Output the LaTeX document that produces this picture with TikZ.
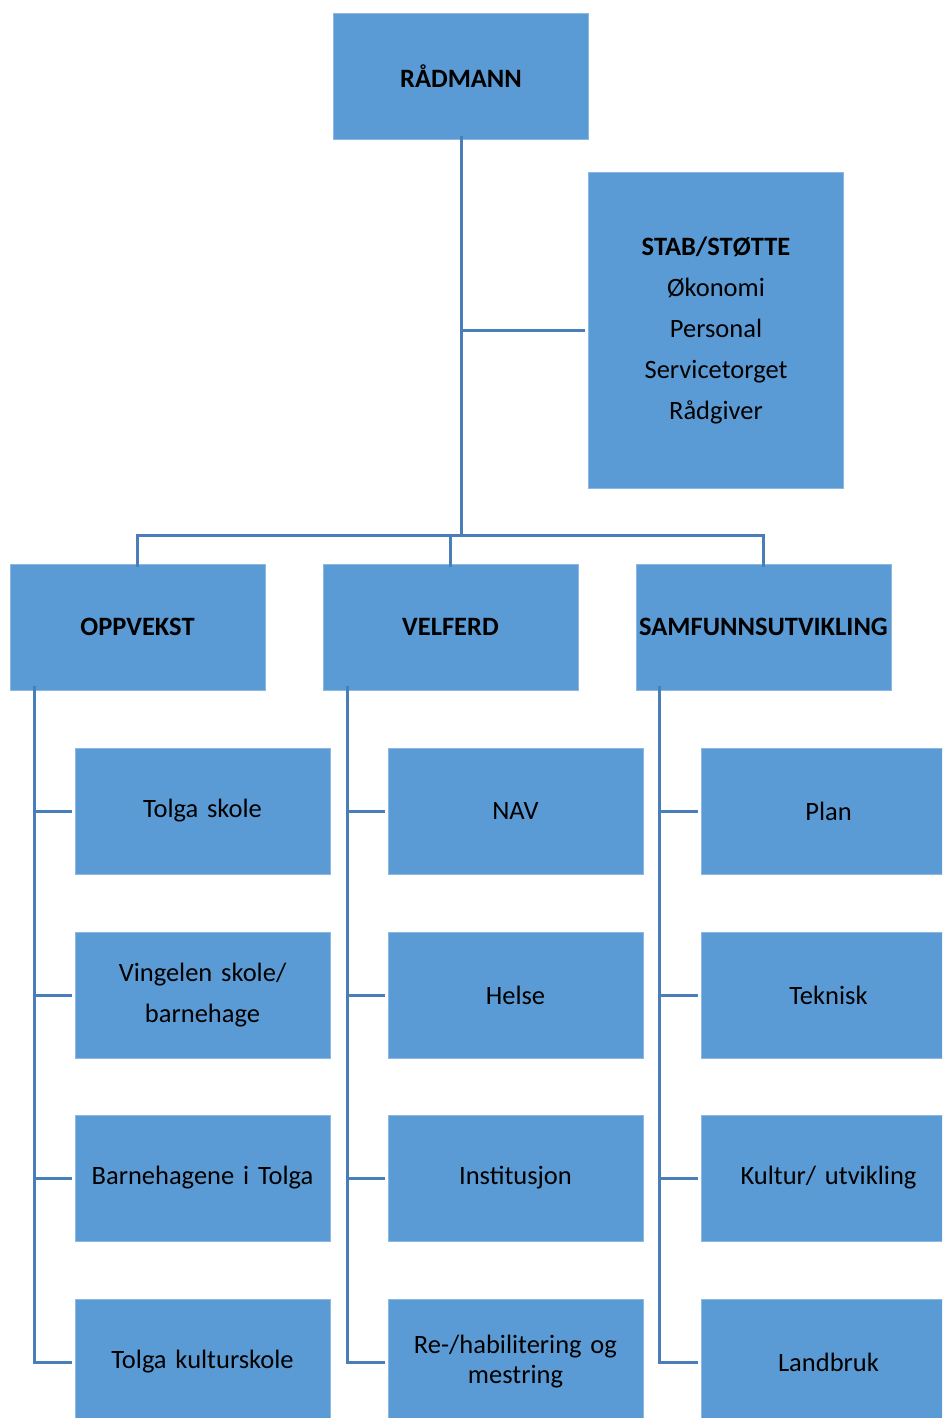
\documentclass[tikz,border=0pt]{standalone}
\usepackage{fontspec}
\setmainfont{Carlito}
\definecolor{boxblue}{HTML}{5B9BD5}
\definecolor{lineblue}{HTML}{4A7EBB}
\begin{document}
\begin{tikzpicture}[x=1pt,y=-1pt,
  box/.style={fill=boxblue, draw=boxblue!70!white, line width=0.6pt, minimum width=255pt, minimum height=126pt, inner sep=0pt, align=center, text width=254pt, font=\fontsize{26.5}{41}\selectfont},
  head/.style={box, font=\fontsize{26.5}{41}\selectfont\bfseries},
  conn/.style={draw=lineblue, line width=3pt}]
\useasboundingbox (0,0) rectangle (942,1418);
\clip (0,0) rectangle (942,1418);
% top
\node[head] (rad) at (461,76) {RÅDMANN};
\node[box, minimum height=316pt] (stab) at (716,330) {\textbf{STAB/STØTTE}\\Økonomi\\Personal\\Servicetorget\\Rådgiver};
% level 2
\node[head] (opp) at (137.5,627) {OPPVEKST};
\node[head] (vel) at (450.5,627) {VELFERD};
\node[head] (sam) at (763.5,627) {SAMFUNNSUTVIKLING};
% level 3
\node[box] (o1) at (202.5,811) {Tolga skole};
\node[box] (o2) at (202.5,995) {Vingelen skole/\\barnehage};
\node[box] (o3) at (202.5,1178) {Barnehagene i Tolga};
\node[box] (o4) at (202.5,1362) {Tolga kulturskole};
\node[box] (v1) at (515.5,811) {NAV};
\node[box] (v2) at (515.5,995) {Helse};
\node[box] (v3) at (515.5,1178) {Institusjon};
\node[box, font=\fontsize{26.5}{30}\selectfont] (v4) at (515.5,1362) {Re-/habilitering og\\mestring};
\node[box] (s1) at (828.5,811) {Plan};
\node[box] (s2) at (828.5,995) {Teknisk};
\node[box] (s3) at (828.5,1178) {Kultur/ utvikling};
\node[box] (s4) at (828.5,1362) {Landbruk};
% connectors
\coordinate (bus) at (461,535);
\draw[conn] ([yshift=3]rad.south) -- (bus);
\draw[conn] ([xshift=-3]stab.west) -- (stab.west -| rad.south);
\draw[conn] ([yshift=-3]opp.north) -- (opp.north |- bus) -- (sam.north |- bus) -- ([yshift=-3]sam.north);
\draw[conn] ([yshift=-3]vel.north) -- (vel.north |- bus);
\coordinate (oT) at ([xshift=25,yshift=4]opp.south west);
\coordinate (vT) at ([xshift=25,yshift=4]vel.south west);
\coordinate (sT) at ([xshift=24,yshift=4]sam.south west);
\draw[conn] (oT) |- ([xshift=-3]o4.west);
\draw[conn] (vT) |- ([xshift=-3]v4.west);
\draw[conn] (sT) |- ([xshift=-3]s4.west);
\foreach \n in {o1,o2,o3} \draw[conn] ([xshift=-3]\n.west) -- (\n.west -| oT);
\foreach \n in {v1,v2,v3} \draw[conn] ([xshift=-3]\n.west) -- (\n.west -| vT);
\foreach \n in {s1,s2,s3} \draw[conn] ([xshift=-3]\n.west) -- (\n.west -| sT);
\end{tikzpicture}
\end{document}
